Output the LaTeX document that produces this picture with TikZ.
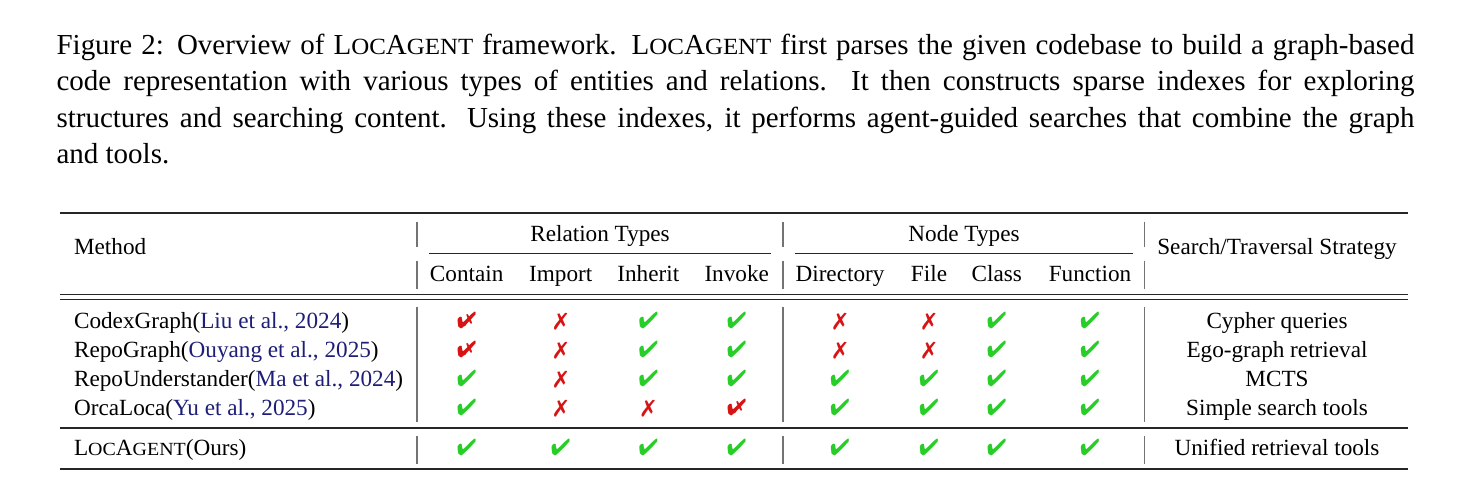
\documentclass[tikz,border=0pt]{standalone}
\usepackage{fontspec}
\setmainfont{Liberation Serif}
\usepackage{graphicx}
\usepackage{pifont}
\definecolor{ckgreen}{RGB}{40,205,40}
\definecolor{ckred}{RGB}{215,20,20}
\definecolor{citeblue}{RGB}{30,30,120}
\newcommand\cmark{\textcolor{ckgreen}{\ding{52}}}
\newcommand\xmark{\textcolor{ckred}{\ding{55}}}
\newcommand\pmark{\textcolor{ckred}{\rlap{\hspace{0.3em}\raisebox{0.12em}{\scalebox{0.75}{\ding{55}}}}\ding{52}}}
\newcommand\locagent{L\scalebox{0.86}[0.8]{OC}A\scalebox{0.86}[0.8]{GENT}}
\newcommand\citeb[1]{\textcolor{citeblue}{#1}}
\begin{document}
\begin{tikzpicture}[x=0.345pt,y=-0.345pt,
  captxt/.style={anchor=base west,inner sep=0,font=\fontsize{10}{12}\selectfont},
  tab/.style={inner sep=0,font=\fontsize{8}{10}\selectfont},
  mk/.style={tab,anchor=base},
  thickrule/.style={line width=0.8pt,black!85},
  thinrule/.style={line width=0.45pt,black!85},
  vrule/.style={line width=0.4pt,black!55}]
\useasboundingbox (0,0) rectangle (1471,497);
% caption
\draw (56,54.3) node[captxt] (cap1) {\makebox[468.5pt][s]{Figure 2: Overview of \locagent{} framework. \locagent{} first parses the given codebase to build a graph-based}};
\draw (56,90.8) node[captxt] (cap2) {\makebox[468.5pt][s]{code representation with various types of entities and relations. It then constructs sparse indexes for exploring}};
\draw (56,127.3) node[captxt] (cap3) {\makebox[468.5pt][s]{structures and searching content. Using these indexes, it performs agent-guided searches that combine the graph}};
\draw (56,163.8) node[captxt] (cap4) {and tools.};
% rules
\draw[thickrule] (60,212.7)--(1408,212.7);
\draw[thinrule] (429,253.3)--(771,253.3);
\draw[thinrule] (795,253.3)--(1133,253.3);
\draw[thinrule] (60,294.3)--(1408,294.3);
\draw[thinrule] (60,299.3)--(1408,299.3);
\draw[thinrule] (60,428)--(1408,428);
\draw[thickrule] (60,469.3)--(1408,469.3);
\foreach \x in {417,783,1144.5} {
  \draw[vrule] (\x,221.5)--(\x,246.5);
  \draw[vrule] (\x,260.5)--(\x,289);
  \draw[vrule] (\x,307)--(\x,422);
  \draw[vrule] (\x,435.5)--(\x,463.5);
}
% header
\draw (73.5,254.3) node[tab,anchor=base west] (meth) {Method};
\draw (600,241.7) node[mk] (rel) {Relation Types};
\draw (964,241.7) node[mk] (nod) {Node Types};
\draw (1277,254.5) node[mk] (strat) {Search/Traversal Strategy};
\draw (466.7,281.7) node[mk] (contain) {Contain};
\draw (560.7,281.7) node[mk] (import) {Import};
\draw (648.3,281.7) node[mk] (inherit) {Inherit};
\draw (736.7,281.7) node[mk] (invoke) {Invoke};
\draw (840,281.7) node[mk] (dir) {Directory};
\draw (929,281.7) node[mk] (file) {File};
\draw (996.7,281.7) node[mk] (class) {Class};
\draw (1090,281.7) node[mk] (func) {Function};
% methods
\draw (73.5,328.5) node[tab,anchor=base west] (codex) {CodexGraph(\citeb{Liu et al., 2024})};
\draw (73.5,357.5) node[tab,anchor=base west] (repograph) {RepoGraph(\citeb{Ouyang et al., 2025})};
\draw (73.5,386.5) node[tab,anchor=base west] (repound) {RepoUnderstander(\citeb{Ma et al., 2024})};
\draw (73.5,415.5) node[tab,anchor=base west] (orca) {OrcaLoca(\citeb{Yu et al., 2025})};
\draw (73.5,455) node[tab,anchor=base west] (ours) {\locagent(Ours)};
% marks
\foreach \x/\m [count=\j] in {466.7/\pmark,560.7/\xmark,648.3/\cmark,736.7/\cmark,840/\xmark,929/\xmark,996.7/\cmark,1090/\cmark}
  \draw (\x,328.5) node[mk] (a\j) {\m};
\foreach \x/\m [count=\j] in {466.7/\pmark,560.7/\xmark,648.3/\cmark,736.7/\cmark,840/\xmark,929/\xmark,996.7/\cmark,1090/\cmark}
  \draw (\x,357.5) node[mk] (b\j) {\m};
\foreach \x/\m [count=\j] in {466.7/\cmark,560.7/\xmark,648.3/\cmark,736.7/\cmark,840/\cmark,929/\cmark,996.7/\cmark,1090/\cmark}
  \draw (\x,386.5) node[mk] (c\j) {\m};
\foreach \x/\m [count=\j] in {466.7/\cmark,560.7/\xmark,648.3/\xmark,736.7/\pmark,840/\cmark,929/\cmark,996.7/\cmark,1090/\cmark}
  \draw (\x,415.5) node[mk] (d\j) {\m};
\foreach \x [count=\j] in {466.7,560.7,648.3,736.7,840,929,996.7,1090}
  \draw (\x,455) node[mk] (e\j) {\cmark};
% strategies
\draw (1277,328.5) node[mk] (s1) {Cypher queries};
\draw (1277,357.5) node[mk] (s2) {Ego-graph retrieval};
\draw (1277,386.5) node[mk] (s3) {MCTS};
\draw (1277,415.5) node[mk] (s4) {Simple search tools};
\draw (1277,455) node[mk] (s5) {Unified retrieval tools};
\end{tikzpicture}
\end{document}
